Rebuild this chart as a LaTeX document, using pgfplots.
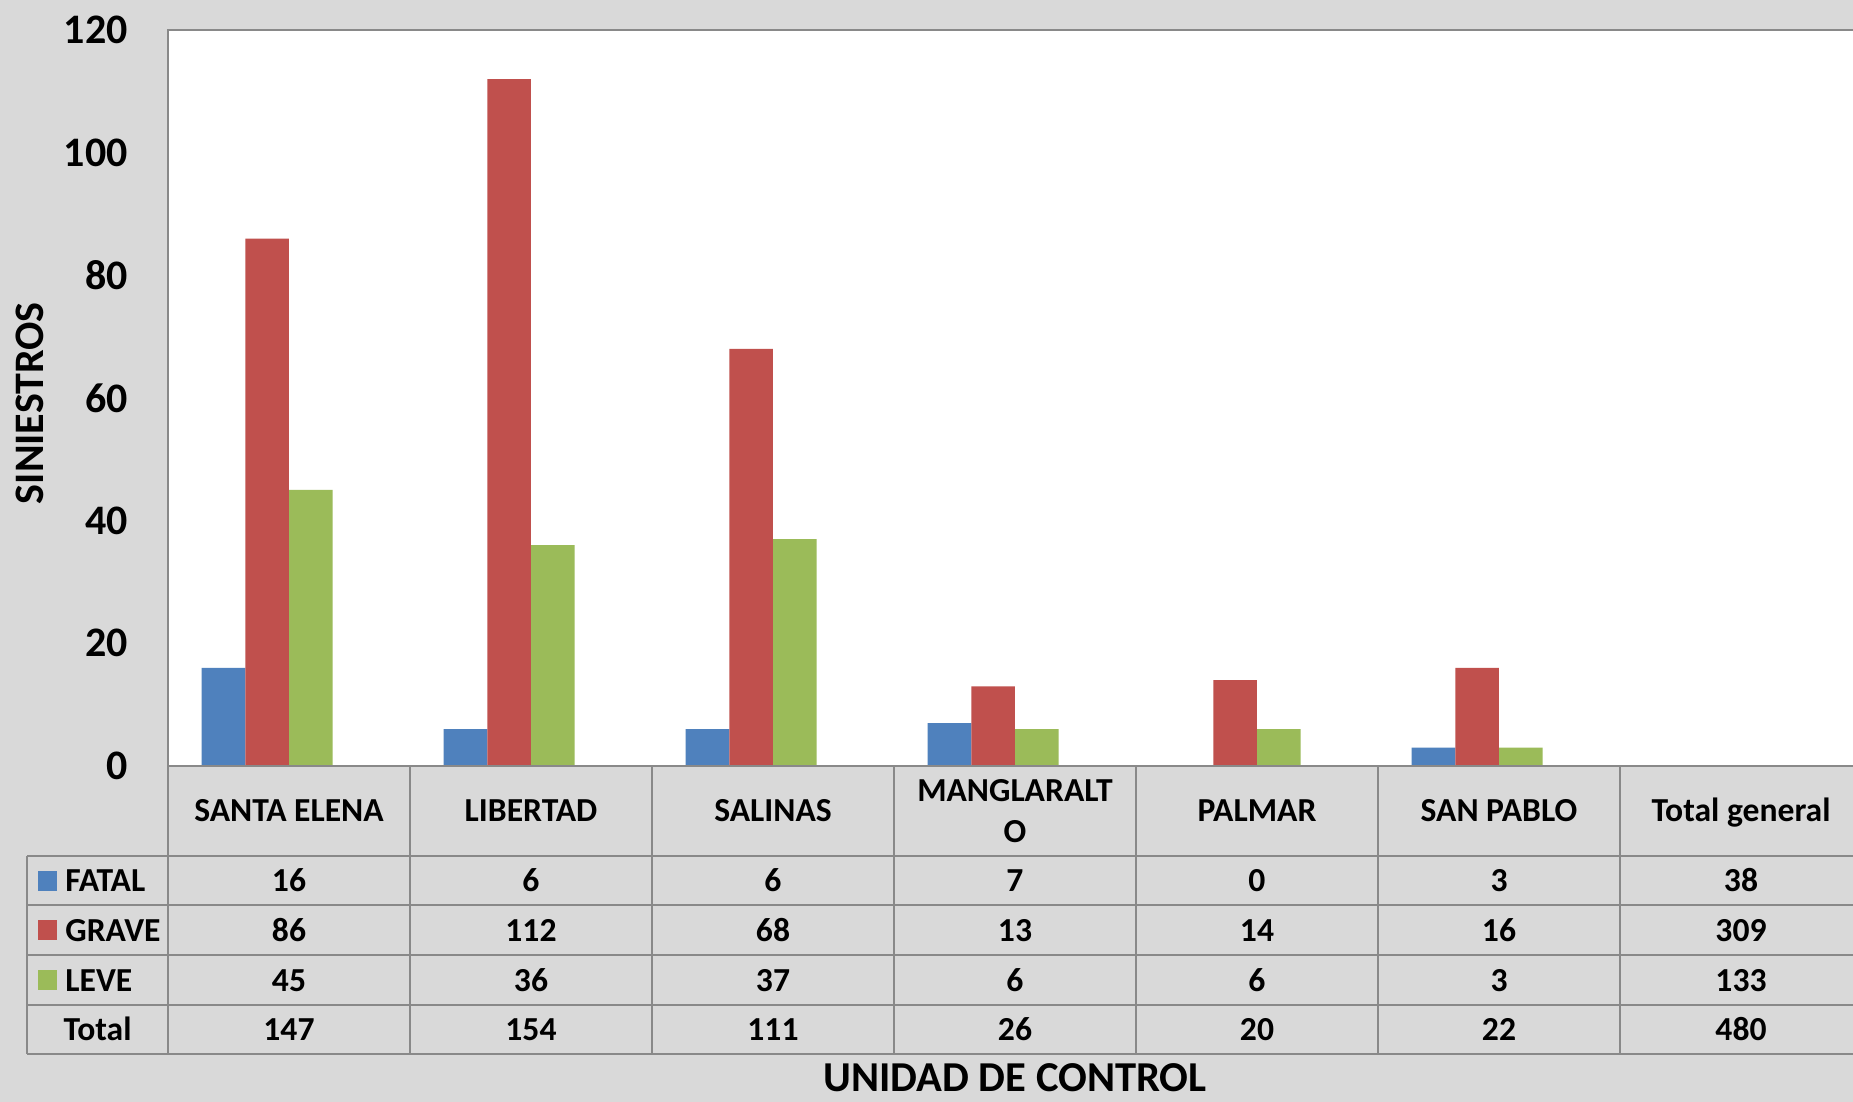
\documentclass[border=0pt]{standalone}
\usepackage{pgfplots}
\pgfplotsset{compat=1.18}
\usepackage{fontspec}
\setmainfont{Carlito}
\definecolor{bgray}{HTML}{D9D9D9}
\definecolor{lgray}{HTML}{898989}
\definecolor{cfatal}{HTML}{4F81BD}
\definecolor{cgrave}{HTML}{C0504D}
\definecolor{cleve}{HTML}{9BBB59}
\newcommand\tf{\bfseries\fontsize{16.8}{20}\selectfont}
\begin{document}
\begin{tikzpicture}
\path[use as bounding box] (0,0) rectangle (926.5pt,551pt);
\clip (0,0) rectangle (926.5pt,551pt);
\fill[bgray] (0,0) rectangle (926.5pt,551pt);
\begin{axis}[
  at={(84pt,168pt)}, anchor=south west,
  scale only axis, width=847pt, height=368pt,
  xmin=-0.5, xmax=6.5, ymin=0, ymax=120,
  xtick=\empty, ytick={0,20,...,120},
  major tick length=0pt,
  axis line style={draw=lgray, line width=1pt},
  axis background/.style={fill=white},
  /pgf/number format/assume math mode=true,
  yticklabel style={font=\bfseries\fontsize{21}{25}\selectfont, anchor=east, inner sep=0pt, xshift=-20pt},
  ylabel={SINIESTROS},
  ylabel style={at={(axis description cs:-0.0815,0.493)}, rotate=0, anchor=center, font=\bfseries\fontsize{21}{25}\selectfont},
  xlabel={UNIDAD DE CONTROL},
  xlabel style={at={(axis description cs:0.5,-0.4425)}, anchor=base, inner sep=0pt, font=\bfseries\fontsize{21.3}{25}\selectfont},
]
\addplot[ybar, bar width=21.85pt, bar shift=-32.78pt, fill=cfatal, draw=none] coordinates {(0,16) (1,6) (2,6) (3,7) (4,0) (5,3)};
\addplot[ybar, bar width=21.85pt, bar shift=-10.93pt, fill=cgrave, draw=none] coordinates {(0,86) (1,112) (2,68) (3,13) (4,14) (5,16)};
\addplot[ybar, bar width=21.85pt, bar shift=10.93pt, fill=cleve, draw=none] coordinates {(0,45) (1,36) (2,37) (3,6) (4,6) (5,3)};
\end{axis}
% table grid
\begin{scope}[draw=lgray, line width=1pt]
\draw (84pt,168pt) -- (940pt,168pt);
\foreach \y in {123,98.25,73.25,48.25,23.75} \draw (13.5pt,\y pt) -- (940pt,\y pt);
\draw (13.5pt,123pt) -- (13.5pt,23.75pt);
\foreach \i in {0,...,7} \draw (84pt+121pt*\i,168pt) -- (84pt+121pt*\i,23.75pt);
\end{scope}
% header
\foreach \t [count=\i from 0] in {SANTA ELENA,LIBERTAD,SALINAS,,PALMAR,SAN PABLO,Total general}
  \node[anchor=base, inner sep=0pt, font=\tf] at (144.5pt+121pt*\i,140.1pt) {\t};
\node[anchor=base, inner sep=0pt, font=\tf] at (507.5pt,150.3pt) {MANGLARALT};
\node[anchor=base, inner sep=0pt, font=\tf] at (507.5pt,129.6pt) {O};
% rows
\foreach \v [count=\i from 0] in {16,6,6,7,0,3,38}
  \node[anchor=base, inner sep=0pt, font=\tf] at (144.5pt+121pt*\i,105.2pt) {\v};
\foreach \v [count=\i from 0] in {86,112,68,13,14,16,309}
  \node[anchor=base, inner sep=0pt, font=\tf] at (144.5pt+121pt*\i,80.35pt) {\v};
\foreach \v [count=\i from 0] in {45,36,37,6,6,3,133}
  \node[anchor=base, inner sep=0pt, font=\tf] at (144.5pt+121pt*\i,55.35pt) {\v};
\foreach \v [count=\i from 0] in {147,154,111,26,20,22,480}
  \node[anchor=base, inner sep=0pt, font=\tf] at (144.5pt+121pt*\i,30.7pt) {\v};
% legend keys
\fill[cfatal] (18.75pt,105.6pt) rectangle (28.7pt,115.6pt);
\fill[cgrave] (18.75pt,80.75pt) rectangle (28.7pt,90.75pt);
\fill[cleve] (18.75pt,55.75pt) rectangle (28.7pt,65.75pt);
\node[anchor=base west, inner sep=0pt, font=\tf] at (32.5pt,105.2pt) {FATAL};
\node[anchor=base west, inner sep=0pt, font=\tf] at (32.5pt,80.35pt) {GRAVE};
\node[anchor=base west, inner sep=0pt, font=\tf] at (32.5pt,55.35pt) {LEVE};
\node[anchor=base, inner sep=0pt, font=\tf] at (48.75pt,30.7pt) {Total};
\end{tikzpicture}
\end{document}
